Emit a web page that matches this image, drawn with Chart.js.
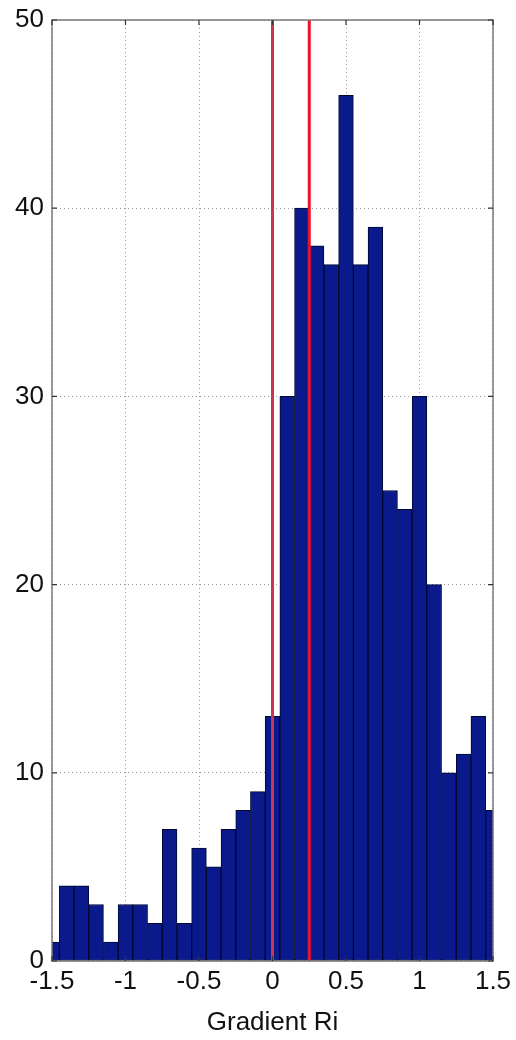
<!DOCTYPE html>
<html>
<head>
<meta charset="utf-8">
<script src="https://cdn.jsdelivr.net/npm/chart.js@4/dist/chart.umd.min.js"></script>
<style>
  html, body { margin: 0; padding: 0; background: #ffffff; }
  #wrap { width: 516px; height: 1040px; }
</style>
</head>
<body>
<div id="wrap"><canvas id="c" width="516" height="1040"></canvas></div>
<script>
// Histogram bin centres (Gradient Ri)
const binCenters = [-1.5, -1.4, -1.3, -1.2, -1.1, -1.0, -0.9, -0.8, -0.7, -0.6,
                    -0.5, -0.4, -0.3, -0.2, -0.1, 0.0, 0.1, 0.2, 0.3, 0.4,
                    0.5, 0.6, 0.7, 0.8, 0.9, 1.0, 1.1, 1.2, 1.3, 1.4, 1.5];
// Counts per bin
const counts = [1, 4, 4, 3, 1, 3, 3, 2, 7, 2,
                6, 5, 7, 8, 9, 13, 30, 40, 38, 37,
                46, 37, 39, 25, 24, 30, 20, 10, 11, 13, 8];
// Vertical reference lines
const refLines = [0, 0.25];
const refColors = ['#c8374f', '#f0102a'];
// Axis ticks
const xTicks = [-1.5, -1, -0.5, 0, 0.5, 1, 1.5];
const yTicks = [0, 10, 20, 30, 40, 50];
const xTitle = 'Gradient Ri';

const FONT = "'Liberation Sans', Arial, Helvetica, sans-serif";

const histData = binCenters.map((x, i) => ({ x: x, y: counts[i] }));
const refDatasets = refLines.map((v, i) => ({
  type: 'line',
  data: [{ x: v, y: yTicks[0] }, { x: v, y: yTicks[yTicks.length - 1] }],
  borderColor: refColors[i],
  borderWidth: 3,
  pointRadius: 0,
  fill: false,
  order: 0,
  clip: 0
}));

const boxPlugin = {
  id: 'matlabBox',
  afterDatasetsDraw(chart) {
    const ctx = chart.ctx;
    const a = chart.chartArea;
    const xs = chart.scales.x, ys = chart.scales.y;
    ctx.save();
    ctx.strokeStyle = '#7a7a7a';
    ctx.lineWidth = 1.5;
    ctx.strokeRect(a.left, a.top, a.right - a.left, a.bottom - a.top);
    ctx.strokeStyle = '#333333';
    ctx.lineWidth = 1.2;
    const L = 5;
    ctx.beginPath();
    xTicks.forEach(v => {
      const px = xs.getPixelForValue(v);
      ctx.moveTo(px, a.bottom); ctx.lineTo(px, a.bottom - L);
      ctx.moveTo(px, a.top); ctx.lineTo(px, a.top + L);
    });
    yTicks.forEach(v => {
      const py = ys.getPixelForValue(v);
      ctx.moveTo(a.left, py); ctx.lineTo(a.left + L, py);
      ctx.moveTo(a.right, py); ctx.lineTo(a.right - L, py);
    });
    ctx.stroke();
    ctx.restore();
  }
};

new Chart(document.getElementById('c'), {
  type: 'bar',
  data: {
    datasets: [
      ...refDatasets,
      {
        type: 'bar',
        data: histData,
        backgroundColor: '#0a1a8c',
        borderColor: '#00082e',
        borderWidth: 1,
        borderSkipped: false,
        barPercentage: 1.0,
        categoryPercentage: 1.0,
        order: 1,
        clip: 0
      }
    ]
  },
  options: {
    responsive: false,
    animation: false,
    devicePixelRatio: 1,
    layout: { padding: { top: 20, right: 23, left: 0, bottom: 0 } },
    plugins: { legend: { display: false }, tooltip: { enabled: false } },
    scales: {
      x: {
        type: 'linear',
        offset: false,
        min: xTicks[0],
        max: xTicks[xTicks.length - 1],
        afterBuildTicks(scale) { scale.ticks = xTicks.map(v => ({ value: v })); },
        afterFit(scale) { scale.height = 79; scale.paddingLeft = 0; scale.paddingRight = 0; },
        grid: { offset: false, color: '#9a9a9a', lineWidth: 1, drawTicks: false },
        border: { display: false, dash: [1, 3] },
        ticks: {
          color: '#111111',
          font: { family: FONT, size: 26 },
          padding: 5,
          maxRotation: 0,
          autoSkip: false,
          callback: v => String(v)
        },
        title: {
          display: true,
          text: xTitle,
          color: '#111111',
          font: { family: FONT, size: 26 },
          padding: { top: 0, bottom: 2 }
        }
      },
      y: {
        type: 'linear',
        min: yTicks[0],
        max: yTicks[yTicks.length - 1],
        afterBuildTicks(scale) { scale.ticks = yTicks.map(v => ({ value: v })); },
        afterFit(scale) { scale.width = 52; scale.paddingTop = 0; scale.paddingBottom = 0; },
        grid: { color: '#9a9a9a', lineWidth: 1, drawTicks: false },
        border: { display: false, dash: [1, 3] },
        ticks: {
          color: '#111111',
          font: { family: FONT, size: 26 },
          padding: 8,
          autoSkip: false
        }
      }
    }
  },
  plugins: [boxPlugin]
});
</script>
</body>
</html>
